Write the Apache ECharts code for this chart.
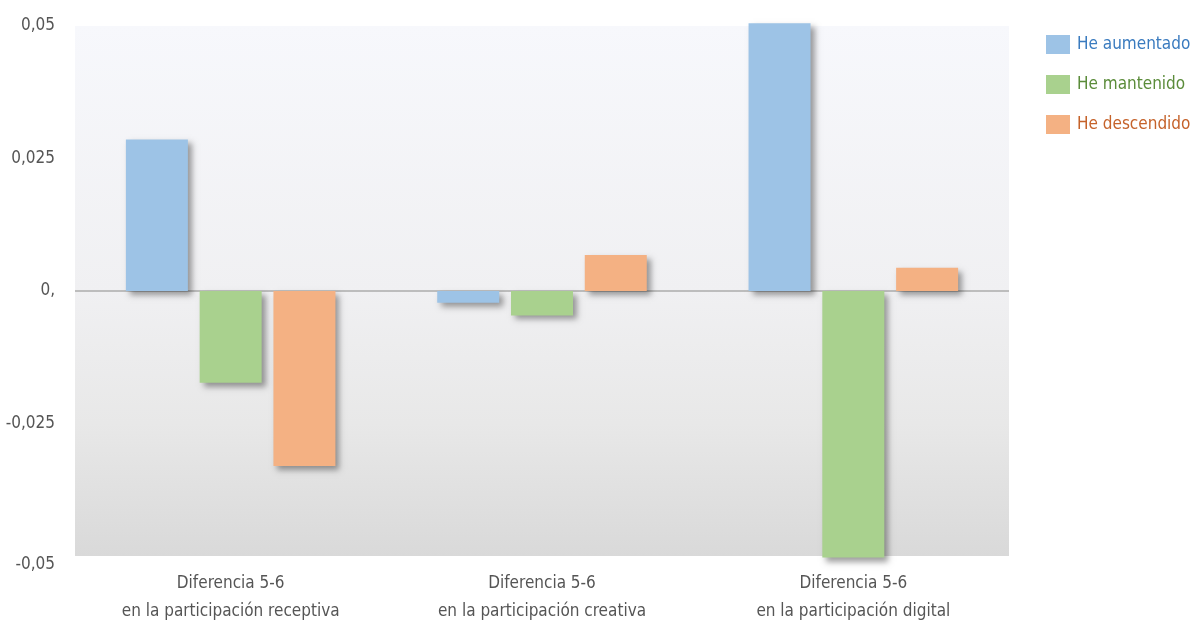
<!DOCTYPE html>
<html>
<head>
<meta charset="utf-8">
<script src="https://cdn.jsdelivr.net/npm/echarts@6/dist/echarts.min.js"></script>
<style>
  html, body { margin: 0; padding: 0; background: #ffffff; }
  #chart { width: 1196px; height: 626px; }
</style>
</head>
<body>
<div id="chart"></div>
<script>
// Category labels (two lines each)
const categories = [
  'Diferencia 5-6\nen la participación receptiva',
  'Diferencia 5-6\nen la participación creativa',
  'Diferencia 5-6\nen la participación digital'
];

// Series values per category
const heAumentado  = [0.0286, -0.0022, 0.0505];
const heMantenido  = [-0.0173, -0.0046, -0.0503];
const heDescendido = [-0.0330, 0.0068, 0.0044];

const seriesNames = ['He aumentado', 'He mantenido', 'He descendido'];
const barColors   = ['#9dc3e6', '#a9d18e', '#f4b183'];
const textColors  = ['#3a7bbf', '#5b8c3a', '#c5622a'];

// Y axis tick labels, from -0.05 to 0.05 in steps of 0.025
const tickLabels = ['-0,05', '-0,025', '0,', '0,025', '0,05'];

const FONT = '"DejaVu Sans Condensed", "Liberation Sans Narrow", "Open Sans", sans-serif';

const chart = echarts.init(document.getElementById('chart'));

const values = [heAumentado, heMantenido, heDescendido];

const series = seriesNames.map((name, i) => {
  const s = {
    name: name,
    type: 'bar',
    data: values[i],
    barWidth: 62,
    barGap: '19%',
    clip: false,
    itemStyle: {
      color: barColors[i],
      shadowColor: 'rgba(0,0,0,0.38)',
      shadowBlur: 6,
      shadowOffsetX: 4,
      shadowOffsetY: 4
    },
    emphasis: { disabled: true }
  };
  if (i === 0) {
    s.markLine = {
      silent: true,
      symbol: 'none',
      label: { show: false },
      lineStyle: { color: '#bdbdbd', width: 2, type: 'solid' },
      data: [{ yAxis: 0 }],
      z: 1
    };
  }
  return s;
});

chart.setOption({
  animation: false,
  textStyle: { fontFamily: FONT },
  grid: {
    left: 75,
    right: 187,
    top: 26,
    bottom: 70,
    show: true,
    borderWidth: 0,
    backgroundColor: new echarts.graphic.LinearGradient(0, 0, 0, 1, [
      { offset: 0, color: '#f7f8fc' },
      { offset: 0.5, color: '#f0f0f2' },
      { offset: 0.75, color: '#e8e8e8' },
      { offset: 1, color: '#d9d9d9' }
    ])
  },
  legend: {
    orient: 'vertical',
    left: 1041,
    top: 30,
    itemWidth: 24,
    itemHeight: 19,
    itemGap: 21,
    icon: 'rect',
    selectedMode: false,
    itemStyle: { shadowBlur: 0, shadowOffsetX: 0, shadowOffsetY: 0 },
    textStyle: { fontSize: 17, fontFamily: FONT, padding: [0, 0, 0, 2] },
    data: seriesNames.map((n, i) => ({ name: n, textStyle: { color: textColors[i] } }))
  },
  xAxis: {
    type: 'category',
    data: categories,
    axisLine: { show: false },
    axisTick: { show: false },
    axisLabel: {
      interval: 0,
      color: '#555555',
      fontSize: 17,
      lineHeight: 28,
      margin: 14,
      fontFamily: FONT
    }
  },
  yAxis: {
    type: 'value',
    min: -0.05,
    max: 0.05,
    interval: 0.025,
    axisLine: { show: false },
    axisTick: { show: false },
    splitLine: { show: false },
    axisLabel: {
      color: '#555555',
      fontSize: 17,
      margin: 20,
      fontFamily: FONT,
      formatter: v => {
        const idx = Math.round(v / 0.025) + 2;
        return idx === 0 ? '{low|' + tickLabels[idx] + '}' : tickLabels[idx];
      },
      rich: {
        low: { fontSize: 17, color: '#555555', padding: [18, 0, 0, 0] }
      }
    }
  },
  series: series
});
</script>
</body>
</html>
